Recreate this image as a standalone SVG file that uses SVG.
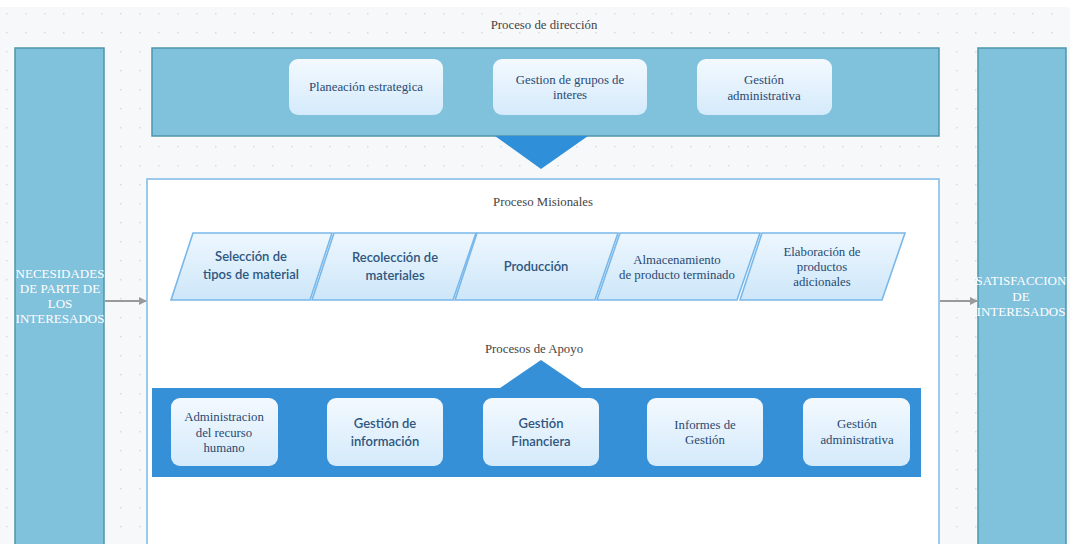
<svg xmlns="http://www.w3.org/2000/svg" width="1070" height="544" viewBox="0 0 1070 544">
  <style>
    .side { fill: #80c1dc; stroke: #4b96ad; stroke-width: 1.5; }
    .card { fill: url(#cardFill); stroke: none; }
    .para { fill: url(#paraFill); stroke: #79b8ea; stroke-width: 1.6; }
    .serif { font-family: "Liberation Serif", "Times New Roman", serif; }
    .sans { font-family: Lato, "Open Sans", "Liberation Sans", sans-serif; font-weight: 600; }
    .title { font-size: 12.8px; fill: #444; text-anchor: middle; }
    .lbl { font-size: 12.8px; fill: #294a72; text-anchor: middle; }
    .lbls { font-size: 13px; fill: #2e5680; text-anchor: middle; }
    .white { font-size: 13px; fill: #ffffff; text-anchor: middle; }
    .conn { stroke: #9a9a9a; stroke-width: 2; fill: none; }
  </style>
  <defs>
    <pattern id="dots" x="6" y="13" width="19" height="19" patternUnits="userSpaceOnUse">
      <circle cx="0.8" cy="0.8" r="0.8" fill="#d0d4da"/>
    </pattern>
    <linearGradient id="cardFill" x1="0" y1="0" x2="0" y2="1">
      <stop offset="0" stop-color="#f3f9fe"/>
      <stop offset="1" stop-color="#d4eafb"/>
    </linearGradient>
    <linearGradient id="paraFill" x1="0" y1="0" x2="0" y2="1">
      <stop offset="0" stop-color="#eef7fe"/>
      <stop offset="1" stop-color="#cde6f9"/>
    </linearGradient>
    <marker id="arrow" markerWidth="8" markerHeight="8" refX="7" refY="4" orient="auto" markerUnits="userSpaceOnUse">
      <path d="M0,0 L8,4 L0,8 Z" fill="#9a9a9a"/>
    </marker>
  </defs>

  <!-- canvas -->
  <rect x="0" y="0" width="1070" height="544" fill="#f7f8fa"/>
  <rect x="0" y="0" width="1070" height="544" fill="url(#dots)"/>
  <rect x="0" y="0" width="1070" height="7" fill="#ffffff"/>

  <!-- stakeholder columns -->
  <g id="necesidades">
    <rect class="side" x="15" y="48" width="89" height="500"/>
    <text class="serif white" x="60" y="278">NECESIDADES</text>
    <text class="serif white" x="60" y="293">DE PARTE  DE</text>
    <text class="serif white" x="60" y="308">LOS</text>
    <text class="serif white" x="60" y="323">INTERESADOS</text>
  </g>
  <g id="satisfaccion">
    <rect class="side" x="978" y="48" width="88" height="500"/>
    <text class="serif white" x="1021" y="285">SATISFACCION</text>
    <text class="serif white" x="1021" y="301">DE</text>
    <text class="serif white" x="1021" y="316">INTERESADOS</text>
  </g>

  <!-- direction processes -->
  <g id="proceso-direccion">
    <text class="serif title" x="544" y="29">Proceso de dirección</text>
    <rect class="side" x="152" y="48" width="787" height="88"/>
    <polygon points="495,136 588,136 541,169" fill="#2f8fd8"/>
  </g>
  <g id="planeacion">
    <rect class="card" x="289" y="59" width="154" height="56" rx="9"/>
    <text class="serif lbl" x="366" y="91">Planeación estrategica</text>
  </g>
  <g id="grupos-interes">
    <rect class="card" x="493" y="59" width="154" height="56" rx="9"/>
    <text class="serif lbl" x="570" y="84">Gestion de grupos de</text>
    <text class="serif lbl" x="570" y="99">interes</text>
  </g>
  <g id="gestion-admin-dir">
    <rect class="card" x="697" y="59" width="135" height="56" rx="9"/>
    <text class="serif lbl" x="764" y="84">Gestión</text>
    <text class="serif lbl" x="764" y="100">administrativa</text>
  </g>

  <!-- core panel -->
  <g id="panel">
    <rect x="147" y="179" width="792" height="370" fill="#ffffff" stroke="#7fbbe8" stroke-width="1.5"/>
    <text class="serif title" x="543" y="206">Proceso Misionales</text>
    <text class="serif title" x="534" y="353">Procesos de Apoyo</text>
  </g>

  <!-- mission processes -->
  <g id="seleccion">
    <polygon class="para" points="193,233 332,233 310,300 171,300"/>
    <text class="sans lbls" x="251" y="261">Selección de</text>
    <text class="sans lbls" x="251" y="279">tipos de material</text>
  </g>
  <g id="recoleccion">
    <polygon class="para" points="334,233 476,233 453,300 312,300"/>
    <text class="sans lbls" x="395" y="262">Recolección de</text>
    <text class="sans lbls" x="395" y="280">materiales</text>
  </g>
  <g id="produccion">
    <polygon class="para" points="477,233 618,233 595,300 455,300"/>
    <text class="sans lbls" x="536" y="271">Producción</text>
  </g>
  <g id="almacenamiento">
    <polygon class="para" points="620,233 760,233 737,300 597,300"/>
    <text class="serif lbl" x="677" y="264">Almacenamiento</text>
    <text class="serif lbl" x="677" y="279">de producto terminado</text>
  </g>
  <g id="elaboracion">
    <polygon class="para" points="762,233 905,233 882,300 740,300"/>
    <text class="serif lbl" x="822" y="256">Elaboración de</text>
    <text class="serif lbl" x="822" y="271">productos</text>
    <text class="serif lbl" x="822" y="286">adicionales</text>
  </g>

  <!-- support processes -->
  <g id="apoyo">
    <polygon points="500,388 541,360 582,388" fill="#3590d8"/>
    <rect x="152" y="388" width="769" height="89" fill="#3590d8"/>
  </g>
  <g id="recurso-humano">
    <rect class="card" x="171" y="398" width="107" height="68" rx="9"/>
    <text class="serif lbl" x="224" y="421">Administracion</text>
    <text class="serif lbl" x="224" y="437">del recurso</text>
    <text class="serif lbl" x="224" y="452">humano</text>
  </g>
  <g id="informacion">
    <rect class="card" x="327" y="398" width="116" height="68" rx="9"/>
    <text class="sans lbls" x="385" y="428">Gestión de</text>
    <text class="sans lbls" x="385" y="446">información</text>
  </g>
  <g id="financiera">
    <rect class="card" x="483" y="398" width="116" height="68" rx="9"/>
    <text class="sans lbls" x="541" y="428">Gestión</text>
    <text class="sans lbls" x="541" y="446">Financiera</text>
  </g>
  <g id="informes">
    <rect class="card" x="647" y="398" width="116" height="68" rx="9"/>
    <text class="serif lbl" x="705" y="429">Informes de</text>
    <text class="serif lbl" x="705" y="444">Gestión</text>
  </g>
  <g id="gestion-admin-apoyo">
    <rect class="card" x="803" y="398" width="107" height="68" rx="9"/>
    <text class="serif lbl" x="857" y="428">Gestión</text>
    <text class="serif lbl" x="857" y="444">administrativa</text>
  </g>

  <!-- connectors -->
  <g id="connectors">
    <line class="conn" x1="105" y1="301" x2="146" y2="301" marker-end="url(#arrow)"/>
    <line class="conn" x1="940" y1="301" x2="977" y2="301" marker-end="url(#arrow)"/>
  </g>
</svg>
